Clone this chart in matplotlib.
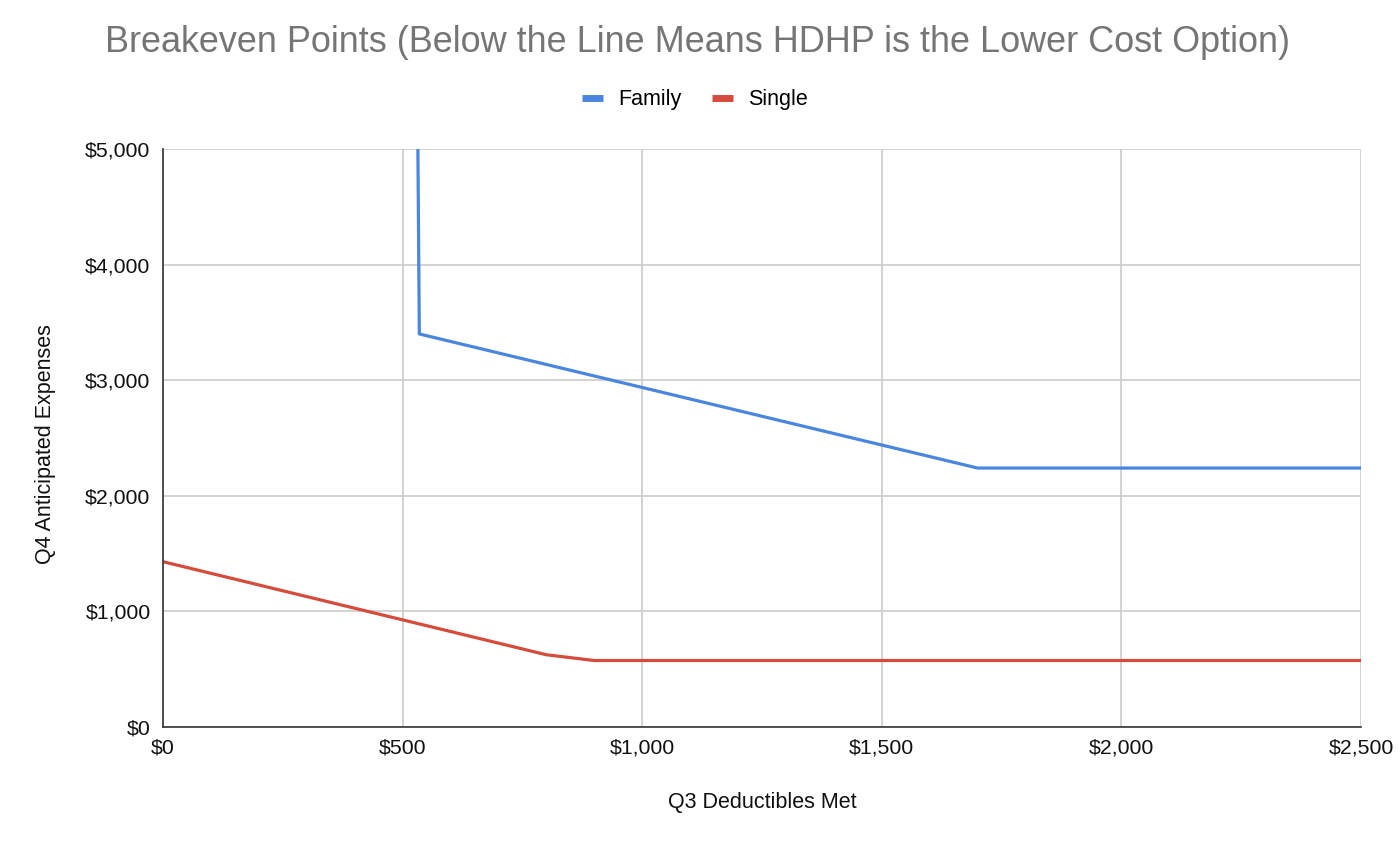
import matplotlib
matplotlib.use("Agg")
import matplotlib.pyplot as plt
from matplotlib.ticker import FuncFormatter, MultipleLocator

plt.rcParams['font.family'] = ['Liberation Sans', 'DejaVu Sans']

family_x = [532, 532, 535, 1700, 2500]
family_y = [5200, 5000, 3400, 2240, 2240]
single_x = [0, 800, 900, 2500]
single_y = [1430, 625, 575, 575]

fig = plt.figure(figsize=(14, 8.48), dpi=100)
ax = fig.add_axes([0.1164, 0.1427, 0.9721 - 0.1164, 0.8243 - 0.1427])

ax.plot(family_x, family_y, color='#4a86e0', lw=2.3, label='Family')
ax.plot(single_x, single_y, color='#d64b3c', lw=2.3, label='Single')

ax.set_xlim(0, 2500)
ax.set_ylim(0, 5000)
ax.xaxis.set_major_locator(MultipleLocator(500))
ax.yaxis.set_major_locator(MultipleLocator(1000))
fmt = FuncFormatter(lambda v, p: f"${v:,.0f}")
ax.xaxis.set_major_formatter(fmt)
ax.yaxis.set_major_formatter(fmt)
ax.grid(True, color='#cccccc', lw=1.2)
ax.set_axisbelow(True)
for s in ['top', 'right']:
    ax.spines[s].set_visible(False)
for s in ['left', 'bottom']:
    ax.spines[s].set_color('#333333')
    ax.spines[s].set_linewidth(1.2)
ax.tick_params(length=0, labelsize=15.3, colors='#111111')
ax.tick_params(axis='y', pad=9)
ax.tick_params(axis='x', pad=8)

ax.set_xlabel('Q3 Deductibles Met', fontsize=15.5, color='#111111', va='center')
ax.xaxis.set_label_coords(0.5, -0.1298)
ax.set_ylabel('Q4 Anticipated Expenses', fontsize=15.5, color='#111111', va='center')
ax.yaxis.set_label_coords(-0.098, 0.49)

fig.text(0.498, 1 - 52 / 848, 'Breakeven Points (Below the Line Means HDHP is the Lower Cost Option)',
         ha='center', va='baseline', fontsize=25.9, color='#757575')

leg = fig.legend(loc='center', bbox_to_anchor=(695 / 1400, 1 - 100 / 848), ncol=2, frameon=False,
                 fontsize=15.5, handlelength=1.0, handletextpad=0.7, columnspacing=1.4)
for h in leg.legend_handles:
    h.set_linewidth(5)
    h.set_solid_capstyle('butt')

fig.savefig('out.png', dpi=100)
